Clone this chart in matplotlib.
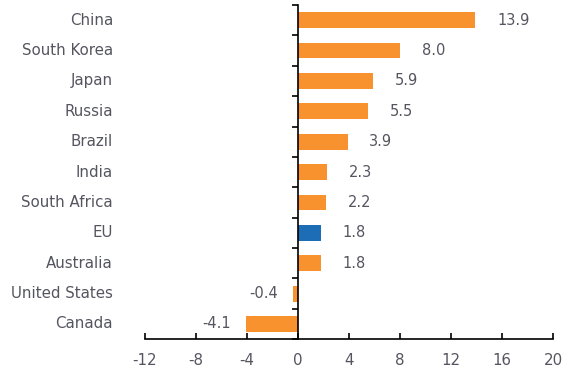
import matplotlib
matplotlib.use('Agg')
from matplotlib import pyplot as plt
import matplotlib.transforms as mtransforms

countries = ['China', 'South Korea', 'Japan', 'Russia', 'Brazil', 'India',
             'South Africa', 'EU', 'Australia', 'United States', 'Canada']
values = [13.9, 8.0, 5.9, 5.5, 3.9, 2.3, 2.2, 1.8, 1.8, -0.4, -4.1]
xticks = [-12, -8, -4, 0, 4, 8, 12, 16, 20]

orange = '#F7922E'
blue = '#1C6DB5'
grey = '#555560'

plt.rcParams['font.family'] = 'DejaVu Sans'
fig = plt.figure(figsize=(5.75, 3.85), dpi=100)
ax = fig.add_axes([0.252, 0.119, 0.710, 0.868])

n = len(countries)
ypos = list(range(n - 1, -1, -1))
colors = [blue if c == 'EU' else orange for c in countries]
ax.barh(ypos, values, height=0.52, color=colors)

for y, v in zip(ypos, values):
    if v >= 0:
        ax.text(v + 1.7, y, f'{v:.1f}', va='center', ha='left', fontsize=10.5, color=grey)
    else:
        ax.text(v - 1.2, y, f'{v:.1f}', va='center', ha='right', fontsize=10.5, color=grey)

trans = mtransforms.blended_transform_factory(ax.transAxes, ax.transData)
for y, c in zip(ypos, countries):
    ax.text(-0.078, y, c, transform=trans, ha='right', va='center', fontsize=10.8, color=grey)

ax.set_xlim(-12, 20)
ax.set_ylim(-0.5, n - 0.5)
ax.set_xticks(xticks)
ax.set_xticklabels([str(t) for t in xticks], fontsize=10.8, color=grey)
ax.tick_params(axis='x', direction='in', length=4, width=1.2, pad=10)

ax.set_yticks([i - 0.5 for i in range(n + 1)])
ax.set_yticklabels([])
ax.tick_params(axis='y', direction='out', length=4, width=1.2)

ax.spines['left'].set_position(('data', 0))
ax.spines['left'].set_linewidth(1.2)
ax.spines['bottom'].set_linewidth(1.2)
ax.spines['top'].set_visible(False)
ax.spines['right'].set_visible(False)

plt.savefig('out.png', dpi=100)
